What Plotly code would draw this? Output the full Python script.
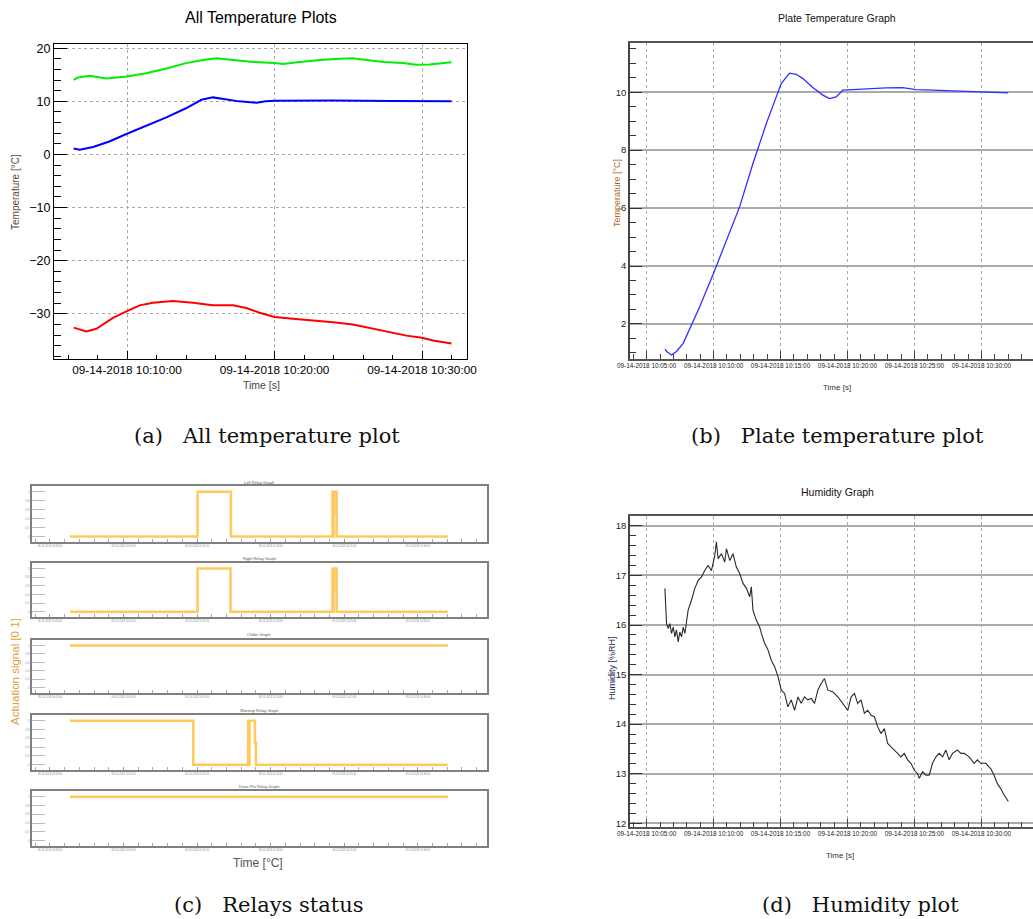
import pandas as pd
import plotly.graph_objects as go

# ---------------- data (time = minutes after 2018-09-14 10:00:00) ----------------
BASE = pd.Timestamp("2018-09-14 10:00:00")

# (a) all temperature plots
green_min = [6.38, 6.68, 7.47, 8.15, 8.6, 10.0, 11.3, 12.67, 14.0, 15.16, 16.06, 17.2, 18.55,
             20.0, 20.55, 21.7, 23.1, 24.4, 25.3, 26.2, 27.4, 28.7, 29.6, 30.5, 32.0]
green_val = [14.05, 14.5, 14.8, 14.5, 14.3, 14.7, 15.3, 16.2, 17.2, 17.8, 18.1, 17.8, 17.4,
             17.2, 17.05, 17.4, 17.8, 18.0, 18.1, 17.8, 17.4, 17.2, 16.9, 16.95, 17.35]
blue_min = [6.38, 6.8, 7.7, 8.8, 10.0, 11.3, 12.67, 14.0, 15.04, 15.83, 16.5, 17.6, 18.8,
            19.4, 20.0, 24.0, 28.0, 32.0]
blue_val = [1.14, 0.9, 1.4, 2.45, 3.9, 5.4, 7.0, 8.7, 10.3, 10.75, 10.5, 10.0, 9.75,
            10.0, 10.1, 10.15, 10.05, 10.0]
red_min = [6.38, 6.8, 7.24, 7.92, 8.37, 9.05, 10.0, 10.86, 11.76, 13.1, 14.47, 15.8, 17.19,
           18.09, 18.99, 20.0, 21.25, 22.61, 23.97, 25.32, 26.2, 27.58, 28.94, 30.0, 30.75, 32.0]
red_val = [-32.6, -32.9, -33.3, -32.8, -32.0, -30.75, -29.5, -28.4, -27.9, -27.6, -27.9, -28.4,
           -28.4, -28.9, -29.8, -30.6, -30.9, -31.2, -31.6, -32.0, -32.5, -33.3, -34.1, -34.5,
           -35.0, -35.6]

# (b) plate temperature
plate_min = [6.37, 6.5, 6.86, 7.23, 7.73, 8.35, 8.97, 10.0, 10.96, 11.95, 12.94, 13.94, 14.68,
             15.05, 15.67, 16.17, 16.67, 17.41, 18.16, 18.65, 19.15, 19.65, 20.4, 21.64, 22.88,
             24.12, 25.1, 26.35, 27.6, 28.83, 30.07, 31.3, 32.0]
plate_val = [1.13, 1.05, 0.93, 1.05, 1.33, 1.97, 2.6, 3.75, 4.9, 6.05, 7.54, 8.92, 9.84,
             10.3, 10.66, 10.62, 10.47, 10.16, 9.9, 9.78, 9.84, 10.07, 10.09, 10.13, 10.15,
             10.16, 10.09, 10.07, 10.05, 10.03, 10.01, 9.98, 9.98]

# (d) humidity
hum_min = [6.365, 6.415, 6.49, 6.61, 6.74, 6.86, 6.99, 7.11, 7.23, 7.36, 7.48, 7.61, 7.73, 7.86,
           7.98, 8.10, 8.35, 8.60, 8.85, 9.10, 9.34, 9.59, 9.84, 10.09, 10.21, 10.34, 10.59,
           10.83, 10.96, 11.21, 11.45, 11.70, 11.95, 12.20, 12.45, 12.70, 12.82, 12.94, 13.19,
           13.44, 13.57, 13.81, 14.06, 14.31, 14.56, 14.81, 15.05, 15.30, 15.55, 15.80, 16.05,
           16.30, 16.54, 16.79, 17.04, 17.29, 17.54, 17.79, 18.03, 18.28, 18.53, 18.90, 19.28,
           19.65, 20.02, 20.27, 20.52, 20.76, 21.01, 21.26, 21.51, 21.76, 22.01, 22.25, 22.50,
           22.75, 23.00, 23.25, 23.50, 23.74, 23.99, 24.24, 24.49, 24.74, 24.99, 25.23, 25.36,
           25.61, 25.85, 26.10, 26.35, 26.60, 26.85, 27.10, 27.34, 27.59, 27.84, 28.21, 28.46,
           28.71, 29.08, 29.45, 29.70, 29.95, 30.32, 30.70, 30.94, 31.19, 31.44, 31.69, 32.01]
hum_val = [16.74, 16.3, 16.03, 15.93, 16.03, 15.83, 15.96, 15.76, 15.9, 15.66, 15.86, 15.76,
           15.96, 15.83, 16.1, 16.3, 16.5, 16.74, 16.9, 16.97, 17.1, 17.2, 17.1, 17.4, 17.68,
           17.34, 17.44, 17.27, 17.54, 17.3, 17.44, 17.17, 17.04, 16.84, 16.74, 16.57, 16.77,
           16.3, 16.1, 15.96, 15.83, 15.63, 15.5, 15.29, 15.16, 14.96, 14.69, 14.62, 14.35,
           14.49, 14.28, 14.55, 14.42, 14.55, 14.49, 14.52, 14.42, 14.69, 14.82, 14.92, 14.69,
           14.65, 14.55, 14.42, 14.28, 14.55, 14.62, 14.42, 14.49, 14.22, 14.28, 14.18, 14.15,
           13.95, 13.81, 13.91, 13.61, 13.54, 13.48, 13.41, 13.34, 13.41, 13.28, 13.21, 13.07,
           13.0, 12.91, 13.04, 12.97, 12.97, 13.21, 13.34, 13.41, 13.34, 13.48, 13.28, 13.41,
           13.48, 13.41, 13.41, 13.34, 13.21, 13.28, 13.21, 13.21, 13.1, 12.97, 12.8, 12.7,
           12.57, 12.44]

# (c) relays (step signals, 0/1)
relay_names = ["Left Relay Graph", "Right Relay Graph", "Chiller Graph",
               "Warmup Relay Graph", "Drain Pre Relay Graph"]
left_min = [6.36, 15.03, 17.30, 24.20, 24.25, 24.27, 24.30, 24.48, 32.04]
left_val = [0, 1, 0, 1, 0, 0.5, 1, 0, 0]
right_min = [6.36, 15.03, 17.27, 24.20, 24.25, 24.27, 24.30, 24.48, 32.04]
right_val = [0, 1, 0, 1, 0, 0.5, 1, 0, 0]
chiller_min = [6.36, 32.04]
chiller_val = [1, 1]
warmup_min = [6.36, 14.74, 18.47, 18.53, 18.56, 18.93, 19.00, 32.04]
warmup_val = [1, 0, 1, 0, 1, 0.5, 0, 0]
drain_min = [6.36, 32.04]
drain_val = [1, 1]

caption_tags = ["(a)", "(b)", "(c)", "(d)"]
caption_texts = ["All temperature plot", "Plate temperature plot",
                 "Relays status", "Humidity plot"]


def when(minutes):
    return BASE + pd.to_timedelta(pd.Series(minutes, dtype=float), unit="min")


def wstr(m):
    return str(BASE + pd.Timedelta(minutes=m))


# ---------------- layout helpers ----------------
W, H = 1033, 919


def fx(px):
    return px / W


def fy(py):
    return 1 - py / H


SANS = "Liberation Sans, Arial, Helvetica, sans-serif"
NARROW = "Liberation Sans Narrow, Arial Narrow, Liberation Sans, sans-serif"
SERIF = "DejaVu Serif, Liberation Serif, serif"
DFMT = "%m-%d-%Y %H:%M:%S"

fig = go.Figure()

# (a)
fig.add_trace(go.Scatter(x=when(green_min), y=green_val, mode="lines",
                         line=dict(color="#00ee00", width=2), xaxis="x", yaxis="y"))
fig.add_trace(go.Scatter(x=when(blue_min), y=blue_val, mode="lines",
                         line=dict(color="#0000ff", width=2), xaxis="x", yaxis="y"))
fig.add_trace(go.Scatter(x=when(red_min), y=red_val, mode="lines",
                         line=dict(color="#ff0000", width=2), xaxis="x", yaxis="y"))
# (b)
fig.add_trace(go.Scatter(x=when(plate_min), y=plate_val, mode="lines",
                         line=dict(color="#2f2fff", width=1.3), xaxis="x2", yaxis="y2"))
# (d)
fig.add_trace(go.Scatter(x=when(hum_min), y=hum_val, mode="lines",
                         line=dict(color="#2a2a2a", width=1.1), xaxis="x3", yaxis="y3"))
# (c)
relay_series = [(left_min, left_val), (right_min, right_val), (chiller_min, chiller_val),
                (warmup_min, warmup_val), (drain_min, drain_val)]
for i, (mm, vv) in enumerate(relay_series):
    fig.add_trace(go.Scatter(x=when(mm), y=vv, mode="lines", line_shape="hv",
                             line=dict(color="#ffc040", width=2.5), opacity=0.85,
                             xaxis=f"x{i + 4}", yaxis=f"y{i + 4}"))

lay = dict(width=W, height=H, autosize=False,
           margin=dict(l=0, r=0, t=0, b=0, pad=0, autoexpand=False),
           paper_bgcolor="white", plot_bgcolor="white", showlegend=False,
           font=dict(family=SANS, color="black"))

# (a) axes
lay["xaxis"] = dict(domain=[fx(54), fx(467)], anchor="y", type="date", automargin=False,
                    range=[wstr(5.05), wstr(33.05)], tick0=wstr(0), dtick=600000,
                    tickformat=DFMT, ticks="inside", ticklen=8, tickcolor="black",
                    tickangle=0,
                    showline=True, linecolor="black", linewidth=1, mirror=True,
                    showgrid=True, gridcolor="#aaa", griddash="dot", gridwidth=1,
                    tickfont=dict(size=11.8, family=SANS),
                    minor=dict(dtick=120000, ticks="inside", ticklen=4, tickcolor="black",
                               showgrid=False))
lay["yaxis"] = dict(domain=[fy(359), fy(44)], anchor="x", range=[-38.5, 20.8], automargin=False,
                    tick0=0, dtick=10, ticks="inside", ticklen=13, tickcolor="black",
                    showline=True, linecolor="black", linewidth=1, mirror=True,
                    showgrid=True, gridcolor="#aaa", griddash="dot", gridwidth=1,
                    zeroline=False, tickfont=dict(size=12.5, family=SANS),
                    minor=dict(dtick=2, ticks="inside", ticklen=7, tickcolor="black",
                               showgrid=False))

# (b) and (d) axes
for xa, ya, yr, ydt, ymin, ytop, ybot in [("xaxis2", "yaxis2", [0.79, 11.7], 2, 0.5, 43, 359),
                                           ("xaxis3", "yaxis3", [11.925, 18.2], 1, 0.2, 516, 827)]:
    lay[xa] = dict(domain=[fx(630), 1.0], anchor="y" + xa[-1], type="date", automargin=False,
                   range=[wstr(3.76), wstr(33.85)], tick0=wstr(0), dtick=300000,
                   tickformat=DFMT, ticks="inside", ticklen=8, tickcolor="#444",
                   tickangle=0,
                   showline=True, linecolor="#555", linewidth=1.5, mirror=True,
                   showgrid=True, gridcolor="#aaa", griddash="dot", gridwidth=1,
                   tickfont=dict(size=6.4, family=NARROW, color="#222"),
                   minor=dict(dtick=60000, ticks="inside", ticklen=5, tickcolor="#444",
                              showgrid=False))
    lay[ya] = dict(domain=[fy(ybot), fy(ytop)], anchor="x" + xa[-1], range=yr, automargin=False,
                   tick0=0, dtick=ydt, ticks="inside", ticklen=12, tickcolor="#333",
                   showline=True, linecolor="#444", linewidth=1.5, mirror=False,
                   showgrid=True, gridcolor="#aaa", gridwidth=1.5, zeroline=False,
                   tickfont=dict(size=9.5, family=NARROW, color="#222"),
                   minor=dict(dtick=ymin, ticks="inside", ticklen=6, tickcolor="#333",
                              showgrid=False))

# (c) relay axes
relay_frames = [(486, 542), (563, 617), (640, 693), (715, 770), (791, 846)]
for i, (top, bot) in enumerate(relay_frames):
    n = i + 4
    lay[f"xaxis{n}"] = dict(domain=[fx(32), fx(487)], anchor=f"y{n}", type="date",
                            automargin=False,
                            range=[wstr(3.78), wstr(34.7)], tick0=wstr(0), dtick=300000,
                            tickformat=DFMT, ticks="inside", ticklen=3, tickcolor="#999",
                            tickangle=0,
                            showline=True, linecolor="#808080", linewidth=2, mirror=True,
                            showgrid=False, tickfont=dict(size=2.6, color="#888"),
                            minor=dict(dtick=60000, ticks="inside", ticklen=3,
                                       tickcolor="#aaa", showgrid=False))
    lay[f"yaxis{n}"] = dict(domain=[fy(bot), fy(top)], anchor=f"x{n}", range=[-0.12, 1.13],
                            automargin=False,
                            tick0=0, dtick=0.2, ticks="inside", ticklen=13, tickcolor="#bbb",
                            showline=True, linecolor="#808080", linewidth=2, mirror=True,
                            showgrid=False, zeroline=False,
                            tickfont=dict(size=3, color="#999"))

fig.update_layout(**lay)

ann = []


def text(x, y, s, size, color="black", family=SANS, angle=0):
    ann.append(dict(x=fx(x), y=fy(y), xref="paper", yref="paper", text=s, showarrow=False,
                    xanchor="center", yanchor="middle", textangle=angle,
                    font=dict(size=size, color=color, family=family)))


# (a) texts
text(261, 18, "All Temperature Plots", 16)
text(261, 385, "Time [s]", 10.5, "#444")
text(15, 192, "Temperature [°C]", 10, "#5c4633", angle=-90)
# (b) texts
text(837, 18, "Plate Temperature Graph", 10.5, "#111", NARROW)
text(837, 387, "Time [s]", 8, "#333", NARROW)
text(617, 193, "Temperature [°C]", 9, "#b06a20", angle=-90)
# (d) texts
text(837, 492, "Humidity Graph", 10.5, "#111", NARROW)
text(840, 855, "Time [s]", 8, "#333", NARROW)
text(612, 668, "Humidity [%RH]", 9, "#1f2a55", angle=-90)
# (c) texts
for name, yy in zip(relay_names, [482, 558, 634, 710, 786]):
    text(259, yy, name, 4, "#555", SANS)
text(15, 672, "Actuation signal [0 1]", 11.5, "#e0a040", angle=-90)
text(258, 863, "Time [°C]", 12, "#555")
# captions
for tag, s, (cx, cy) in zip(caption_tags, caption_texts,
                            [(267, 436), (837, 436), (268, 905), (860, 905)]):
    text(cx, cy, tag + "&nbsp;&nbsp;&nbsp;" + s, 21, "#111", SERIF)

fig.update_layout(annotations=ann)
fig.write_html("out.html", config={"displayModeBar": False, "responsive": False},
               post_script="document.body.style.margin='0';"
                           "document.body.style.overflow='hidden';")
